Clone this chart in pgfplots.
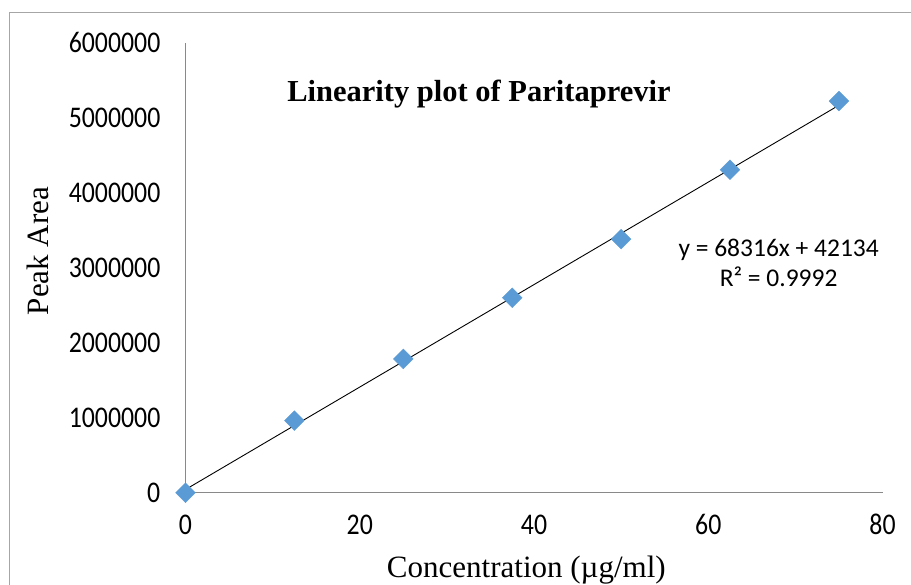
\documentclass[border=0pt]{standalone}
\usepackage{pgfplots}
\pgfplotsset{compat=1.18}
\usepackage{fontspec}
\setmainfont{Liberation Serif}
\newfontfamily\tickfont[FakeStretch=0.86]{Carlito}
\newfontfamily\eqfont{Carlito}
\definecolor{ptblue}{HTML}{5B9BD5}
\definecolor{axgray}{HTML}{898989}
\definecolor{framegray}{HTML}{A6A6A6}
\begin{document}
\begin{tikzpicture}[x=1bp,y=1bp]
\useasboundingbox (0,0) rectangle (911,585);
\draw[framegray, line width=1bp] (9,-20) rectangle (930,572);
\begin{axis}[
  at={(185.5bp,92.3bp)}, anchor=origin,
  scale only axis, width=697bp, height=450bp,
  xmin=0, xmax=80, ymin=0, ymax=6000000,
  axis x line*=bottom, axis y line*=left,
  axis line style={axgray, line width=1.6bp},
  major tick length=0pt,
  xtick={0,20,40,60,80},
  ytick={0,1000000,2000000,3000000,4000000,5000000,6000000},
  yticklabels={0,1000000,2000000,3000000,4000000,5000000,6000000},
  scaled y ticks=false,
  /pgf/number format/assume math mode=true,
  xticklabel style={font=\tickfont\fontsize{30bp}{30bp}\selectfont, anchor=base, yshift=-41.5bp},
  yticklabel style={font=\tickfont\fontsize{30bp}{30bp}\selectfont, anchor=east, inner sep=0pt, xshift=-25bp},
  xlabel={Concentration (µg/ml)},
  xlabel style={font=\fontsize{31bp}{31bp}\selectfont, at={(axis description cs:0.489,-0.1875)}, anchor=base},
  ylabel={Peak Area},
  ylabel style={font=\fontsize{31bp}{31bp}\selectfont, at={(axis description cs:-0.197,0.537)}, anchor=base},
  title={\textbf{Linearity plot of Paritaprevir}},
  title style={font=\fontsize{30.5bp}{30.5bp}\selectfont, at={(axis description cs:0.421,0.855)}, anchor=base},
  clip=false,
]
\addplot[only marks, mark=square*, mark size=7bp, mark options={rotate=45, fill=ptblue, draw=ptblue}]
  coordinates {(0,0) (12.5,961000) (25,1784000) (37.5,2599000) (50,3381000) (62.5,4306000) (75,5222000)};
\addplot[black, line width=0.9bp] coordinates {(0,42134) (75,5165834)};
\node[anchor=base, font=\eqfont\fontsize{25.5bp}{25.5bp}\selectfont] at (axis description cs:0.851,0.524) {y = 68316x + 42134};
\node[anchor=base, font=\eqfont\fontsize{25.5bp}{25.5bp}\selectfont] at (axis description cs:0.851,0.4575) {R² = 0.9992};
\end{axis}
\end{tikzpicture}
\end{document}
